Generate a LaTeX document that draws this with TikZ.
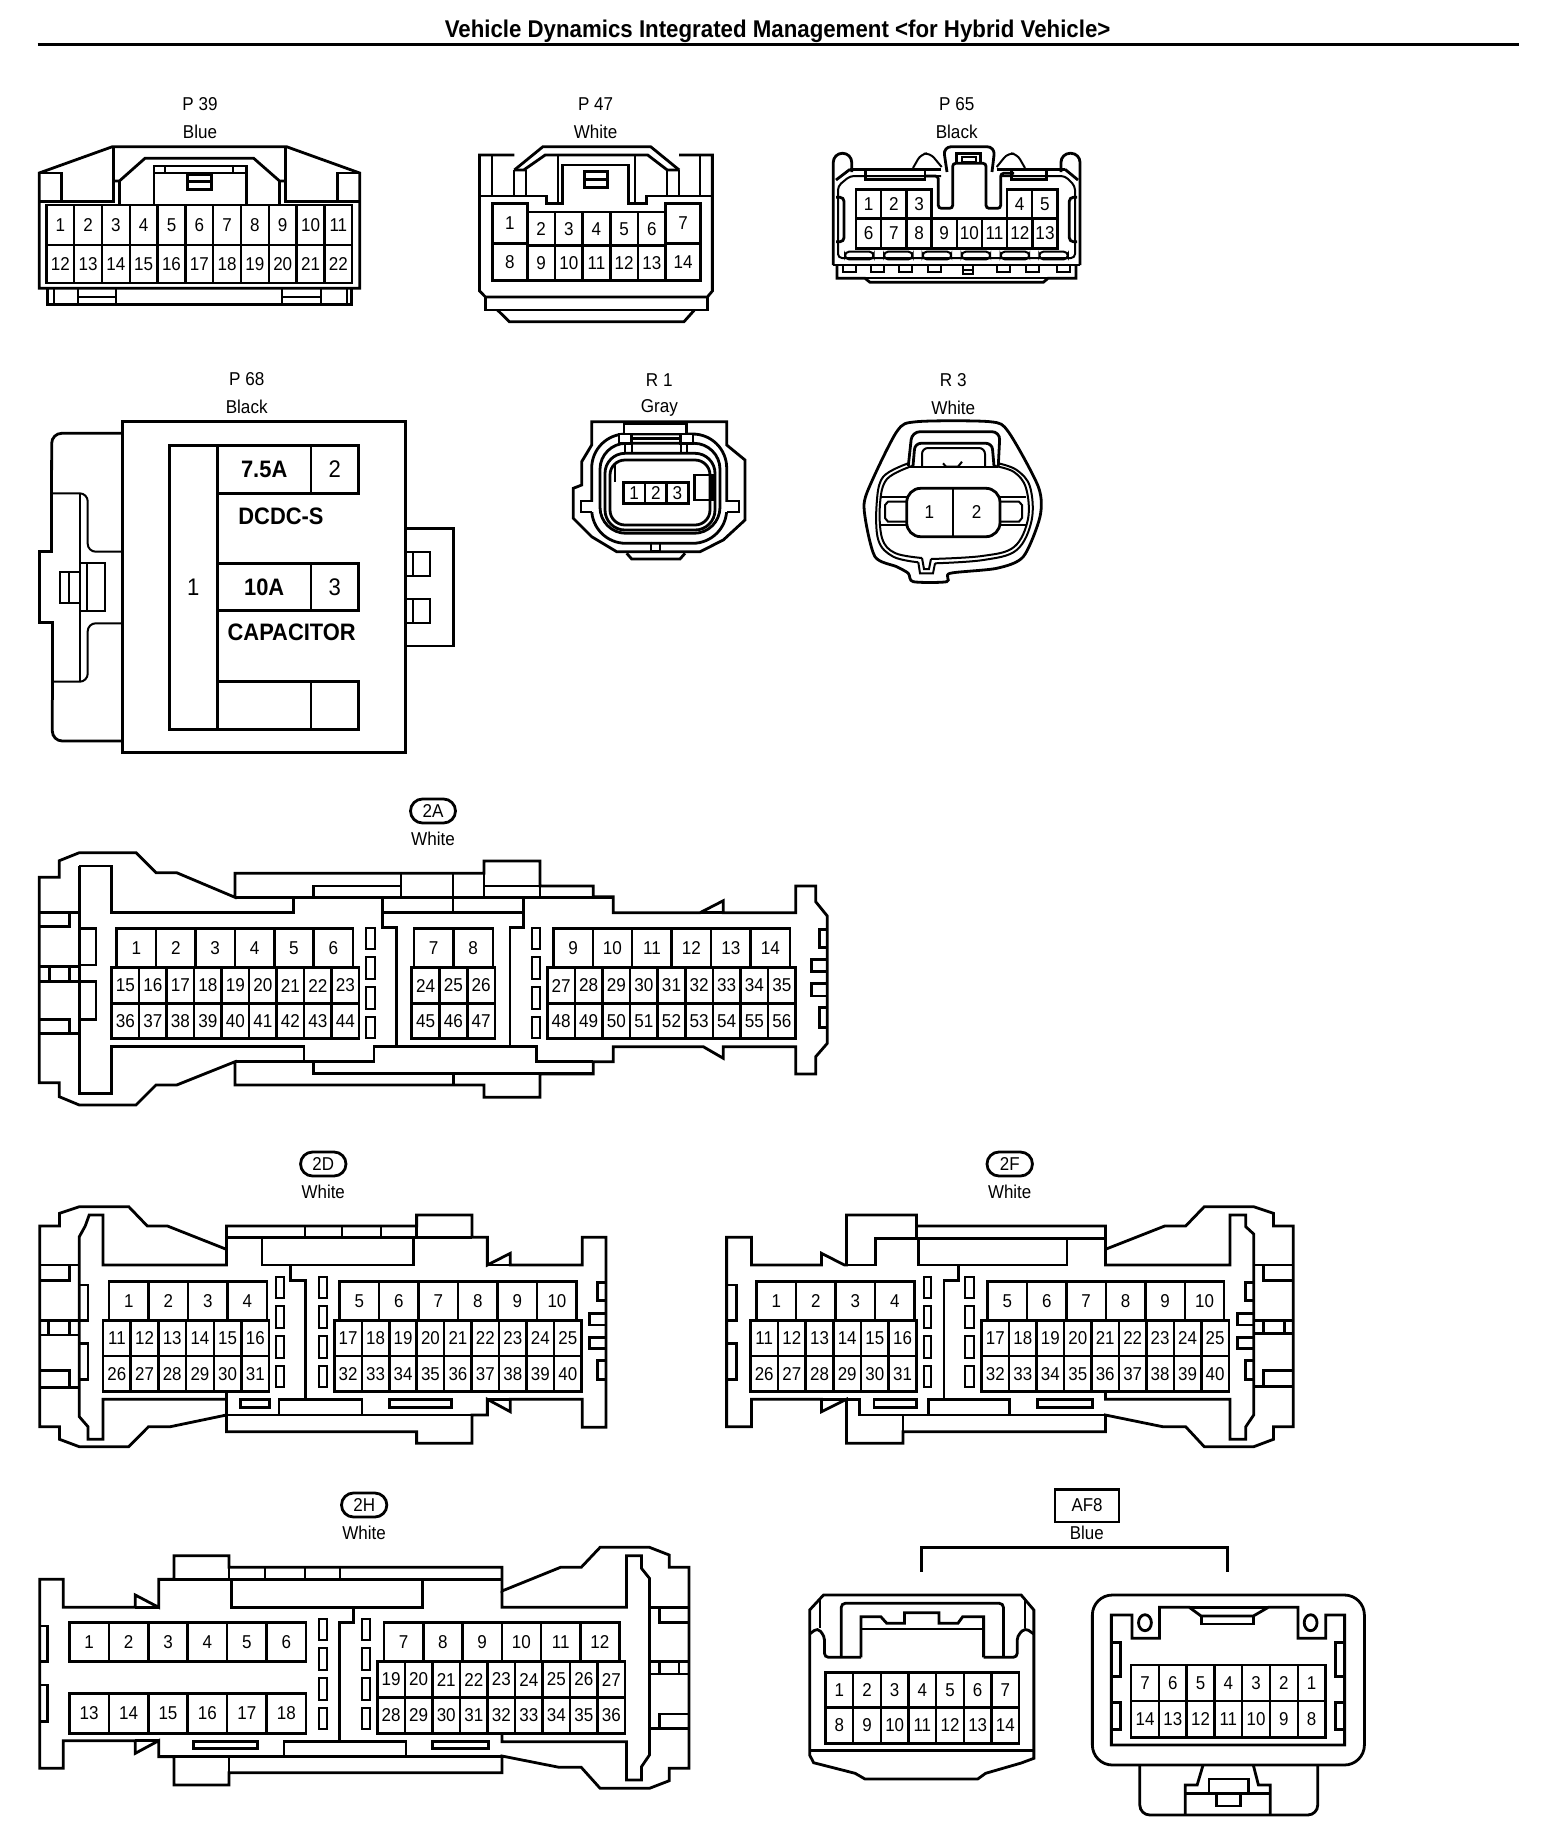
\documentclass[tikz,border=0pt]{standalone}
\usepackage{fontspec}
\setmainfont{Liberation Sans}[FakeStretch=0.92]
\usetikzlibrary{positioning}

\tikzset{
    shell/.style={draw, line width=1.4pt, line join=miter},
    detail/.style={draw, line width=1pt},
    pin/.style={draw, line width=1.25pt, inner sep=0pt, font=\fontsize{9.3}{11}\selectfont},
    lbl/.style={inner sep=0pt, font=\fontsize{9.3}{11}\selectfont},
    tag/.style={draw, line width=1.4pt, rounded corners=6pt, inner sep=0pt, font=\fontsize{9.3}{11}\selectfont},
    fuse/.style={inner sep=0pt, font=\bfseries\fontsize{11.9}{13}\selectfont},
    bignum/.style={inner sep=0pt, font=\fontsize{12}{13}\selectfont}
}

% one row of equal pin cells: name, x, y, cell width, cell height, numbers
\newcommand{\pinrow}[6]{
    \foreach \n [count=\i from 0] in {#6} {
        \node[pin, minimum width=#4*0.5pt, minimum height=#5*0.5pt] (#1-\n) at ({#2+(\i+0.5)*#4},{#3+#5/2}) {\n};
    }
}
% column of four narrow slots
\newcommand{\slotcol}[3]{
    \foreach \ya/\yb in {0/21, 29/51, 59/81, 89/110} {
        \draw[detail] (#1,#3+\ya) rectangle (#2,#3+\yb);
    }
}

\begin{document}
\begin{tikzpicture}[x=0.5pt, y=-0.5pt]
    \path[fill=white, use as bounding box] (0,0) rectangle (1568,1838);

    % Title
    \node[inner sep=0pt, font=\bfseries\fontsize{12.1}{14}\selectfont] (title) at (777.6,31) {Vehicle Dynamics Integrated Management <for Hybrid Vehicle>};
    \coordinate (rulel) at (37.5,44.5);
    \coordinate (ruler) at (1519,44.5);
    \draw[line width=1.8pt] (rulel) -- (ruler);

    \begin{scope}[xscale=0.9949, transform shape]
    % P39
    \node[lbl] (p39name) at (201,104) {P 39};
    \node[lbl] (p39col) at (201,131.7) {Blue};
    \draw[shell] (39.4,173) -- (113,146.7) -- (288,146.7) -- (361.5,173) -- (361.5,288.3) -- (39.4,288.3) -- cycle;
    \draw[shell] (48,288.3) -- (48,304.3) -- (353,304.3) -- (353,288.3);
    \draw[detail] (54,288.3) -- (54,304.3) (348.5,288.3) -- (348.5,304.3);
    \draw[detail] (78,288.3) rectangle (117,304.3) (78,296.7) -- (117,296.7);
    \draw[detail] (283.7,288.3) rectangle (323,304.3) (283.7,296.7) -- (323,296.7);
    \draw[shell] (39.4,201.7) -- (114,201.7) -- (114,146.7) (361.5,201.7) -- (287,201.7) -- (287,146.7);
    \draw[shell] (39.4,173) -- (61.5,173) -- (61.5,201.7) (361.5,173) -- (339,173) -- (339,201.7);
    \draw[shell] (114,181) -- (120,181) -- (145.7,158.3) -- (255,158.3) -- (281,181) -- (287,181);
    \draw[shell] (120,181) -- (120,205) (281,181) -- (281,205);
    \draw[shell] (154.8,205) -- (154.8,166) -- (247.6,166) -- (247.6,205);
    \draw[detail] (154.8,172.7) -- (247.6,172.7) (166,166) -- (166,172.7) (234.6,166) -- (234.6,172.7);
    \draw[shell] (188.5,175) rectangle (212.5,189.3) (188.5,181.7) -- (212.5,181.7);
    \pinrow{pa}{46.6}{205}{27.95}{40}{1,...,11}
    \pinrow{pa}{46.6}{245}{27.95}{38}{12,...,22}

    % P47
    \node[lbl] (p47name) at (598.6,104) {P 47};
    \node[lbl] (p47col) at (598.6,131.7) {White};
    \draw[shell] (517,155) -- (482,155) -- (482,291) -- (488,297) -- (711,297) -- (716,291) -- (716,155) -- (682.7,155);
    \draw[shell] (517,170) -- (545.7,146.7) -- (654,146.7) -- (682.7,170);
    \draw[shell] (526.4,170) -- (548,155) -- (651,155) -- (670.7,170) (517,170) -- (529,170) (670.7,170) -- (682.7,170);
    \draw[shell] (482,196) -- (549.5,196) -- (549.5,203.3) -- (565,203.3) -- (565,165) -- (632,165) -- (632,203.3) -- (650,203.3) -- (650,196) -- (716,196);
    \draw[detail] (495,155) -- (495,196) (704,155) -- (704,196) (517,170) -- (517,196) (529,170) -- (529,196) (670.7,170) -- (670.7,196) (682.7,170) -- (682.7,196) (561,155) -- (561,203.3) (638,155) -- (638,203.3);
    \draw[shell] (587.5,171.7) rectangle (610.5,187.3) (587.5,179.3) -- (610.5,179.3);
    \pinrow{pb}{495}{203.3}{35}{40}{1}
    \pinrow{pb}{495}{243.3}{35}{37.4}{8}
    \pinrow{pb}{669}{203.3}{35}{40}{7}
    \pinrow{pb}{669}{243.3}{35}{37.4}{14}
    \pinrow{pb}{530}{212}{27.8}{33.7}{2,...,6}
    \pinrow{pb}{530}{245.7}{27.8}{35}{9,...,13}
    \draw[shell] (488,297) -- (488,310) -- (711.5,310) -- (711.5,297);
    \draw[shell] (500,310) -- (512,321.7) -- (687.5,321.7) -- (698,310);
    \end{scope}

    % P65
    \node[lbl] (p65name) at (956.7,104) {P 65};
    \node[lbl] (p65col) at (956.7,131.7) {Black};
    \draw[shell, rounded corners=4.5pt] (851.7,172) -- (851.7,153.3) -- (833.3,153.3) -- (833.3,265);
    \draw[shell] (833.3,265) -- (1080,265);
    \draw[shell, rounded corners=4.5pt] (1080,265) -- (1080,153.3) -- (1061,153.3) -- (1061,172);
    \draw[shell] (850,169.3) -- (941,169.3) (996.7,169.3) -- (1065,169.3);
    \draw[detail, rounded corners=2pt] (941,176) -- (850,176) -- (838,186) -- (838,258) -- (1075,258) -- (1075,186) -- (1065,176) -- (1001,176);
    \draw[shell] (850,169.3) -- (836,180);
    \draw[shell] (1065,169.3) -- (1078,180);
    \draw[shell] (865.7,169.3) -- (865.7,179.3) -- (925,179.3) -- (925,169.3);
    \draw[shell] (1011.7,169.3) -- (1011.7,179.3) -- (1046.7,179.3) -- (1046.7,169.3);
    \draw[shell, rounded corners=4pt] (947,172) -- (943.3,146.7) -- (995,146.7) -- (992,172);
    \draw[shell, rounded corners=1.5pt] (925,176) -- (938.3,176) -- (938.3,208.3) -- (952.7,208.3) -- (952.7,163.3) -- (986,163.3) -- (986,208.3) -- (1000.7,208.3) -- (1000.7,173.3) -- (1014,173.3);
    \draw[shell] (956.7,163.3) -- (956.7,153.3) -- (980.7,153.3) -- (980.7,163.3);
    \draw[detail] (962,157) rectangle (976,161.5);
    \draw[detail, rounded corners=3pt] (913,168) -- (921,154) -- (930,153) -- (941.7,167);
    \draw[detail, rounded corners=3pt] (996.7,167) -- (1008,153) -- (1017,154) -- (1025,168);
    \draw[shell, rounded corners=2pt] (836,197.3) -- (844,197.3) -- (844,241.7) -- (836,241.7);
    \draw[shell, rounded corners=2pt] (1077,197.3) -- (1069.3,197.3) -- (1069.3,241.7) -- (1077,241.7);
    \pinrow{pc}{856}{189.3}{25.2}{29}{1,...,3}
    \pinrow{pc}{1007}{189.3}{25.2}{29}{4,5}
    \pinrow{pc}{856}{218.3}{25.2}{30}{6,...,13}
    \foreach \sx in {845,884,922.7,961.7,1000.7,1039.3} {
        \draw[detail, rounded corners=2pt] (\sx,251.7) rectangle (\sx+28.5,259.3);
    }
    \draw[shell] (837,265) -- (837,278.3) -- (865,278.3) -- (870,282.3) -- (1043.3,282.3) -- (1048,278.3) -- (1076,278.3) -- (1076,265);
    \draw[detail] (865,278.3) -- (1048,278.3);
    \foreach \tx in {842.7,870.7,899,928.3,996.7,1025.7,1056.7} {
        \draw[detail] (\tx,265) rectangle (\tx+13,271.7);
    }
    \draw[detail] (963.3,265) rectangle (972.7,274) (963.3,270) -- (972.7,270);

    % P68
    \node[lbl] (p68name) at (246.7,379) {P 68};
    \node[lbl] (p68col) at (246.7,407.3) {Black};
    \draw[shell] (122.3,421.7) rectangle (405.7,752.7);
    \draw[shell, rounded corners=5pt] (122.3,433.3) -- (51.7,433.3) -- (51.7,470);
    \draw[shell] (51.7,460) -- (51.7,551.7) -- (39.3,551.7) -- (39.3,622.3) -- (52.3,622.3) -- (52.3,700);
    \draw[shell, rounded corners=5pt] (52.3,700) -- (52.3,741) -- (122.3,741);
    \draw[detail, rounded corners=4pt] (52.3,493.3) -- (87.7,493.3) -- (87.7,551.7) -- (122.3,551.7);
    \draw[detail, rounded corners=4pt] (122.3,623.3) -- (87.7,623.3) -- (87.7,681.7) -- (52.3,681.7);
    \draw[detail] (80,493.3) -- (80,681.7);
    \draw[detail] (80,563.3) rectangle (105,610.7) (86.7,563.3) -- (86.7,610.7);
    \draw[detail] (60,571.7) rectangle (80,602.7) (69,571.7) -- (69,602.7);
    \draw[shell] (405.7,528.3) -- (453.3,528.3) -- (453.3,646) -- (405.7,646);
    \draw[detail] (405.7,551.7) rectangle (430,576) (413.3,551.7) -- (413.3,576);
    \draw[detail] (405.7,599.3) rectangle (430,623.3) (413.3,599.3) -- (413.3,623.3);
    \node[shell, minimum width=48*0.5pt, minimum height=283.6*0.5pt, bignum] (p68-1) at (193.3,587.5) {1};
    \node[shell, minimum width=93.7*0.5pt, minimum height=47.6*0.5pt, fuse] (fa) at (264.2,469.5) {7.5A};
    \node[shell, minimum width=47.7*0.5pt, minimum height=47.6*0.5pt, bignum] (p68-2) at (334.8,469.5) {2};
    \node[shell, minimum width=93.7*0.5pt, minimum height=47.4*0.5pt, fuse] (fb) at (264.2,587) {10A};
    \node[shell, minimum width=47.7*0.5pt, minimum height=47.4*0.5pt, bignum] (p68-3) at (334.8,587) {3};
    \node[shell, minimum width=93.7*0.5pt, minimum height=47.6*0.5pt] (fc) at (264.2,705.5) {};
    \node[shell, minimum width=47.7*0.5pt, minimum height=47.6*0.5pt] (p68-4) at (334.8,705.5) {};
    \node[fuse] (dcdc) at (281,516) {DCDC-S};
    \node[fuse] (capa) at (291.7,632.5) {CAPACITOR};

    % R1
    \node[lbl] (r1name) at (659.3,380) {R 1};
    \node[lbl] (r1col) at (659.3,407.7) {Gray};
    \draw[shell] (591.7,445) -- (591.7,421.7) -- (726.7,421.7) -- (726.7,445) -- (745,460) -- (745,520) -- (723.3,540) -- (700,551.7) -- (616.7,551.7) -- (591.7,536.7) -- (573.3,518.3) -- (573.3,488.3) -- (581.7,485) -- (581.7,461.7) -- cycle;
    \draw[shell, rounded corners=17pt] (591.7,434) rectangle (726.7,543.3);
    \draw[shell, rounded corners=13pt] (600,443.3) rectangle (720,533.3);
    \draw[shell, rounded corners=10pt] (605,453.3) rectangle (715,530);
    \draw[shell, rounded corners=7.5pt] (610,460) rectangle (710,525);
    \draw[fill=white, draw=white] (589,502) rectangle (595,511.5) (724,502) rectangle (730,511.5);
    \draw[shell] (591.7,501) -- (581,501) -- (581,512) -- (591.7,512) (726.7,501) -- (739,501) -- (739,512) -- (726.7,512);
    \draw[fill=white, shell] (624,423.3) rectangle (686.7,434);
    \draw[fill=white, shell] (619,434) rectangle (631.7,443.3) (680.7,434) rectangle (693,443.3);
    \draw[shell] (631.7,438.3) -- (680.7,438.3);
    \draw[detail] (625,443) -- (625,453) (631.7,443) -- (631.7,453) (680.7,443) -- (680.7,453) (686.7,443) -- (686.7,453);
    \draw[detail] (615,464) -- (615,482);
    \pinrow{rb}{623.3}{482.3}{21.67}{21}{1,2,3}
    \draw[shell] (694.3,475) rectangle (712.3,500);
    \draw[shell] (651,541.7) -- (651,551.7) -- (660,551.7) -- (660,541.7);
    \draw[shell] (626.7,553.3) -- (631.7,559) -- (680,559) -- (685,553.3);

    % R3
    \node[lbl] (r3name) at (953.3,380) {R 3};
    \node[lbl] (r3col) at (953.3,407.7) {White};
    \draw[shell] plot[smooth cycle, tension=0.45] coordinates {(916.7,421.7) (990,421.7) (1008.3,431.7) (1038.3,486.7) (1040,516.7) (1023.3,556.7) (996.7,568.3) (950,573.3) (946.7,581.7) (913.3,581.7) (908.3,573.3) (896.7,566.7) (875,556.7) (865,516.7) (866.7,493.3) (896.7,431.7)};
    \draw[detail] plot[smooth, tension=0.6] coordinates {(908.3,463.3) (883.3,476.7) (876.7,503.3) (878.3,540) (893.3,556.7) (918.3,562.3)};
    \draw[detail] plot[smooth, tension=0.6] coordinates {(935,563.3) (983.3,560) (1016.7,550) (1031.7,520) (1030,486.7) (1016.7,470) (998.3,463.3)};
    \draw[detail] plot[smooth, tension=0.6] coordinates {(912,466) (887,479) (880,504) (882,538) (895,553) (922,558)};
    \draw[detail] plot[smooth, tension=0.6] coordinates {(931,559) (982,556) (1014,547) (1028,519) (1026,488) (1014,472) (995,466)};
    \draw[detail] (918.3,562.3) -- (920,573.3) -- (933,573.3) -- (935,563.3) (922,558) -- (924,569) -- (929,569) -- (931,559);
    \draw[shell, rounded corners=4pt] (908.3,466) -- (912,431.7) -- (1000,431.7) -- (998.3,466);
    \draw[detail] (908.3,466.7) -- (998.3,466.7);
    \draw[shell, rounded corners=3pt] (913,466) -- (915,443.3) -- (992,443.3) -- (994,466);
    \draw[detail, rounded corners=3pt] (922,466) -- (922,448) -- (985,448) -- (985,466);
    \draw[detail] (943,463.3) -- (946,466.7) -- (958,466.7) -- (962,461.7);
    \draw[shell, rounded corners=7pt] (906.7,488.3) rectangle (1000,536.7);
    \draw[detail] (953.3,488.3) -- (953.3,536.7);
    \node[lbl] (r3-1) at (929.3,511.7) {1};
    \node[lbl] (r3-2) at (976.7,511.7) {2};
    \draw[detail] (881,496.7) -- (906.7,496.7) (881,525) -- (906.7,525);
    \draw[detail] (906.7,501.7) -- (888,501.7) -- (885,505) -- (885,518) -- (888,521.7) -- (906.7,521.7);
    \draw[detail] (1000,496.7) -- (1026,496.7) (1000,525) -- (1026,525);
    \draw[detail] (1000,501.7) -- (1019,501.7) -- (1022,505) -- (1022,518) -- (1019,521.7) -- (1000,521.7);

    % 2A
    \node[tag, minimum width=45*0.5pt, minimum height=24*0.5pt] (twoa) at (433,811) {2A};
    \node[lbl] (twoacol) at (433,839.3) {White};
    \draw[shell] (39.3,877.3) -- (59.3,877.3) -- (59.3,860.7) -- (79.3,852.7) -- (136,852.7) -- (156,872.7) -- (176.7,872.7) -- (235,897.3) -- (235,873.3) -- (484,873.3) -- (484,861) -- (540,861) -- (540,886) -- (593.3,886) -- (593.3,896.7) -- (613.3,896.7) -- (613.3,912.7) -- (700,912.7) -- (723.3,900.7) -- (723.3,912.7) -- (795.7,912.7) -- (795.7,886) -- (815.7,886) -- (815.7,901.7) -- (827.3,916) -- (827.3,1043.3) -- (815.7,1056.7) -- (815.7,1074) -- (795.7,1074) -- (795.7,1046.7) -- (723.3,1046.7) -- (723.3,1058.3) -- (703.3,1046.7) -- (613.3,1046.7) -- (613.3,1061.7) -- (593.3,1061.7) -- (593.3,1074) -- (540,1074) -- (540,1097.3) -- (484,1097.3) -- (484,1085) -- (235,1085) -- (235,1061.7) -- (176.7,1085) -- (156,1085) -- (136,1105) -- (79.3,1105) -- (59.3,1096.7) -- (59.3,1082.7) -- (39.3,1082.7) -- cycle;
    \draw[shell] (700,912.7) -- (723.3,912.7);
    \draw[shell] (79.3,866) -- (111.7,866) -- (111.7,912.7) -- (293.3,912.7) -- (293.3,897.3) (79.3,866) -- (79.3,1093.3) -- (111.7,1093.3) -- (111.7,1046.7) -- (304,1046.7) -- (304,1061.7);
    \draw[shell] (235,1061.7) -- (374,1061.7) -- (374,1046.7) -- (536.7,1046.7) -- (536.7,1061.7) -- (593.3,1061.7);
    \draw[shell] (235,897.3) -- (613.3,897.3);
    \draw[shell] (382.7,897.3) -- (382.7,927.3) -- (396.7,927.3) -- (396.7,1046.7) (523.3,897.3) -- (523.3,927.3) -- (510,927.3) -- (510,1046.7);
    \draw[shell] (382.7,912.7) -- (523.3,912.7);
    \draw[detail] (400.7,873.3) -- (400.7,897.3) (453.3,873.3) -- (453.3,912.7) (484,873.3) -- (484,897.3) (540,861) -- (540,897.3);
    \draw[shell] (313.3,897.3) -- (313.3,886) -- (400.7,886) (484,886) -- (540,886);
    \draw[shell] (313.3,1061.7) -- (313.3,1073.7) -- (593.3,1073.7) (453.3,1073.7) -- (453.3,1085);
    \draw[shell] (39.3,912.7) -- (79.3,912.7) (39.3,926.7) -- (69.3,926.7) -- (69.3,912.7) (39.3,966.7) -- (79.3,966.7) (39.3,981.7) -- (79.3,981.7) (49.3,966.7) -- (49.3,981.7) (69.3,966.7) -- (69.3,981.7) (39.3,1019.3) -- (69.3,1019.3) -- (69.3,1033.3) (39.3,1033.3) -- (79.3,1033.3);
    \draw[shell] (79.3,928.3) -- (96,928.3) -- (96,965) -- (79.3,965) (79.3,981.7) -- (96,981.7) -- (96,1019.3) -- (79.3,1019.3);
    \pinrow{ta}{116.7}{928.3}{39.4}{39.4}{1,...,6}
    \pinrow{ta}{111.7}{967.7}{27.5}{35.6}{15,...,23}
    \pinrow{ta}{111.7}{1003.3}{27.5}{35}{36,...,44}
    \pinrow{ta}{414}{928.3}{39.4}{39.4}{7,8}
    \pinrow{ta}{411.7}{967.7}{27.8}{35.6}{24,25,26}
    \pinrow{ta}{411.7}{1003.3}{27.8}{35}{45,46,47}
    \pinrow{ta}{553.3}{928.3}{39.45}{39.4}{9,...,14}
    \pinrow{ta}{547.3}{967.7}{27.6}{35.6}{27,...,35}
    \pinrow{ta}{547.3}{1003.3}{27.6}{35}{48,...,56}
    \slotcol{365.7}{375}{928.3}
    \slotcol{531.7}{540}{928.3}
    \draw[shell] (827.3,929.3) -- (819.3,929.3) -- (819.3,947.3) -- (827.3,947.3) (827.3,959.3) -- (811.7,959.3) -- (811.7,971.7) -- (827.3,971.7) (827.3,983.3) -- (811.7,983.3) -- (811.7,996) -- (827.3,996) (827.3,1007.3) -- (819.3,1007.3) -- (819.3,1027.3) -- (827.3,1027.3);

    \begin{scope}[xshift=0.115pt, xscale=0.98853, transform shape]
    % 2D
    \node[tag, minimum width=46*0.5pt, minimum height=24*0.5pt] (twod) at (326.8,1164) {2D};
    \node[lbl] (twodcol) at (326.8,1191.7) {White};
    \draw[shell] (40,1226) -- (60,1226) -- (60,1213.3) -- (80,1206.7) -- (130,1206.7) -- (148.8,1226) -- (169.2,1226) -- (228.8,1249.3) -- (228.8,1226) -- (421.2,1226) -- (421.2,1215) -- (477.2,1215) -- (477.2,1237.3) -- (492.8,1237.3) -- (492.8,1265) -- (516,1253.3) -- (516,1265) -- (588.8,1265) -- (588.8,1237.3) -- (612.8,1237.3) -- (612.8,1427.3) -- (588.8,1427.3) -- (588.8,1399.3) -- (516,1399.3) -- (516,1411.7) -- (492.8,1399.3) -- (492.8,1415) -- (477.2,1415) -- (477.2,1443.3) -- (421.2,1443.3) -- (421.2,1431.7) -- (228.8,1431.7) -- (228.8,1415) -- (172,1426.7) -- (150,1426.7) -- (130,1446.7) -- (80,1446.7) -- (60,1439.3) -- (60,1426.7) -- (40,1426.7) -- cycle;
    \draw[shell] (492.8,1265) -- (516,1265) (492.8,1399.3) -- (516,1399.3);
    \draw[shell] (86,1226) -- (80,1236.7) -- (80,1416.7) -- (88.8,1426.7) -- (88.8,1439.3) -- (104,1439.3) -- (104,1399.3) -- (228.8,1399.3) -- (228.8,1415) (86,1226) -- (90,1215) -- (104,1215) -- (104,1265) -- (228.8,1265) -- (228.8,1249.3);
    \draw[shell] (228.8,1237.3) -- (477.2,1237.3) (421.2,1226) -- (421.2,1237.3);
    \draw[detail] (308.8,1226) -- (308.8,1237.3) (346,1226) -- (346,1237.3) (384.8,1226) -- (384.8,1237.3);
    \draw[shell] (264.8,1237.3) -- (264.8,1265) -- (418,1265) -- (418,1237.3);
    \draw[shell] (294,1265) -- (294,1280.7) -- (308.8,1280.7) -- (308.8,1399.3);
    \draw[shell] (228.8,1415) -- (492.8,1415);
    \draw[shell] (228.8,1391.7) -- (228.8,1399.3);
    \draw[shell] (272,1399.3) rectangle (242.8,1407.3) (394,1399.3) rectangle (456.8,1407.3);
    \draw[shell] (282,1415) -- (282,1399.3) -- (366,1399.3) -- (366,1415);
    \draw[shell] (40,1265) -- (80,1265) (40,1280.7) -- (70,1280.7) -- (70,1265) (40,1320.7) -- (80,1320.7) (40,1335) -- (80,1335) (48.8,1320.7) -- (48.8,1335) (70,1320.7) -- (70,1335) (40,1370.7) -- (70,1370.7) -- (70,1387.3) (40,1387.3) -- (80,1387.3);
    \draw[shell] (80,1285) -- (88.8,1285) -- (88.8,1320.7) -- (80,1320.7) (80,1343.3) -- (88.8,1343.3) -- (88.8,1379.3) -- (80,1379.3);
    \pinrow{td}{110}{1281.7}{40}{39}{1,...,4}
    \pinrow{td}{343.2}{1281.7}{40}{39}{5,...,10}
    \pinrow{td}{104}{1320.7}{28}{35.3}{11,...,16}
    \pinrow{td}{104}{1356}{28}{35.7}{26,...,31}
    \pinrow{td}{338}{1320.7}{27.78}{35.3}{17,...,25}
    \pinrow{td}{338}{1356}{27.78}{35.7}{32,...,40}
    \slotcol{279.2}{286.8}{1276.7}
    \slotcol{322}{330.8}{1276.7}
    \draw[shell] (612.8,1282.7) -- (604,1282.7) -- (604,1300.7) -- (612.8,1300.7) (612.8,1313.3) -- (596,1313.3) -- (596,1325) -- (612.8,1325) (612.8,1337.3) -- (596,1337.3) -- (596,1348.3) -- (612.8,1348.3) (612.8,1360.7) -- (604,1360.7) -- (604,1379.3) -- (612.8,1379.3);
    \end{scope}

    \begin{scope}[xshift=4.07pt, xscale=0.98853, transform shape]
    % 2F
    \node[tag, minimum width=46*0.5pt, minimum height=24*0.5pt] (twof) at (1013.2,1164) {2F};
    \node[lbl] (twofcol) at (1013.2,1191.7) {White};
    \draw[shell] (726.8,1237.3) -- (752,1237.3) -- (752,1265) -- (822.8,1265) -- (822.8,1253.3) -- (846,1265) -- (848,1265) -- (848,1215) -- (918.8,1215) -- (918.8,1226) -- (1110,1226) -- (1110,1249.3) -- (1170,1226) -- (1191.2,1226) -- (1210,1206.7) -- (1260,1206.7) -- (1280,1213.3) -- (1280,1226) -- (1300,1226) -- (1300,1426.7) -- (1280,1426.7) -- (1280,1439.3) -- (1260,1446.7) -- (1210,1446.7) -- (1191.2,1426.7) -- (1168,1426.7) -- (1110,1415) -- (1110,1431.7) -- (905.2,1431.7) -- (905.2,1443.3) -- (848,1443.3) -- (848,1399.3) -- (822.8,1411.7) -- (822.8,1399.3) -- (752,1399.3) -- (752,1426.7) -- (726.8,1426.7) -- cycle;
    \draw[shell] (822.8,1399.3) -- (848,1399.3);
    \draw[shell] (848,1265) -- (877.2,1265) -- (877.2,1238.3) -- (1110,1238.3);
    \draw[shell] (921.2,1238.3) -- (921.2,1265) -- (1071.2,1265) -- (1071.2,1238.3);
    \draw[shell] (918.8,1226) -- (918.8,1238.3);
    \draw[shell] (961.2,1265) -- (961.2,1280.7) -- (946.8,1280.7) -- (946.8,1399.3);
    \draw[shell] (1110,1249.3) -- (1110,1265) -- (1236,1265) -- (1236,1215) -- (1252,1215) -- (1252,1226.7) -- (1260,1234) -- (1260,1415) -- (1252,1426.7) -- (1252,1439.3) -- (1236,1439.3) -- (1236,1399.3) -- (1110,1399.3) -- (1110,1391.7);
    \draw[shell] (848,1399.3) -- (861.2,1399.3) -- (861.2,1415) -- (1110,1415) (905.2,1415) -- (905.2,1431.7);
    \draw[shell] (930.8,1415) -- (930.8,1399.3) -- (1013.2,1399.3) -- (1013.2,1415);
    \draw[shell] (876,1399.3) rectangle (918.8,1407.3) (1041.2,1399.3) rectangle (1096.8,1407.3);
    \draw[shell] (1260,1265) -- (1300,1265) (1270,1265) -- (1270,1280.7) -- (1300,1280.7) (1260,1320.7) -- (1300,1320.7) (1260,1333.3) -- (1300,1333.3) (1270,1320.7) -- (1270,1333.3) (1290.8,1320.7) -- (1290.8,1333.3) (1270,1386.7) -- (1270,1370.7) -- (1300,1370.7) (1260,1386.7) -- (1300,1386.7);
    \draw[shell] (1260,1282.7) -- (1252,1282.7) -- (1252,1300.7) -- (1260,1300.7) (1260,1313.3) -- (1244,1313.3) -- (1244,1325) -- (1260,1325) (1260,1337.3) -- (1244,1337.3) -- (1244,1348.3) -- (1260,1348.3) (1260,1360.7) -- (1252,1360.7) -- (1252,1379.3) -- (1260,1379.3);
    \draw[shell] (726.8,1285) -- (736.8,1285) -- (736.8,1320.7) -- (726.8,1320.7) (726.8,1343.3) -- (736.8,1343.3) -- (736.8,1379.3) -- (726.8,1379.3);
    \pinrow{tf}{757.2}{1281.7}{39.9}{39}{1,...,4}
    \pinrow{tf}{990.8}{1281.7}{39.9}{39}{5,...,10}
    \pinrow{tf}{750.8}{1320.7}{28}{35.3}{11,...,16}
    \pinrow{tf}{750.8}{1356}{28}{35.7}{26,...,31}
    \pinrow{tf}{984.8}{1320.7}{27.78}{35.3}{17,...,25}
    \pinrow{tf}{984.8}{1356}{27.78}{35.7}{32,...,40}
    \slotcol{926}{934}{1276.7}
    \slotcol{968}{976.8}{1276.7}
    \end{scope}

    \begin{scope}[xshift=0.05pt, xscale=0.99472, transform shape]
    % 2H
    \node[tag, minimum width=45.6*0.5pt, minimum height=24*0.5pt] (twoh) at (366,1505) {2H};
    \node[lbl] (twohcol) at (366,1532.7) {White};
    \draw[shell] (39.9,1579.3) -- (63.4,1579.3) -- (63.4,1607.3) -- (135.9,1607.3) -- (135.9,1595) -- (159.4,1607.3) -- (159.4,1579.3) -- (174.9,1579.3) -- (174.9,1555.7) -- (230.2,1555.7) -- (230.2,1567.3) -- (504.5,1567.3) -- (504.5,1591) -- (563.4,1567.3) -- (584.2,1567.3) -- (603.2,1547.3) -- (652.8,1547.3) -- (672.7,1555) -- (672.7,1567.3) -- (692.6,1567.3) -- (692.6,1768.3) -- (672.7,1768.3) -- (672.7,1780.7) -- (652.8,1788.3) -- (603.2,1788.3) -- (584.2,1767.3) -- (562,1767.3) -- (504.5,1756) -- (504.5,1772.7) -- (230.2,1772.7) -- (230.2,1785) -- (174.9,1785) -- (174.9,1756.7) -- (159.4,1756.7) -- (159.4,1740.7) -- (135.9,1753.3) -- (135.9,1740.7) -- (63.4,1740.7) -- (63.4,1768.3) -- (39.9,1768.3) -- cycle;
    \draw[shell] (135.9,1607.3) -- (159.4,1607.3) (135.9,1740.7) -- (159.4,1740.7);
    \draw[shell] (159.4,1579.3) -- (504.5,1579.3);
    \draw[detail] (230.2,1567.3) -- (230.2,1579.3) (266.5,1567.3) -- (266.5,1579.3) (306.3,1567.3) -- (306.3,1579.3) (341.7,1567.3) -- (341.7,1579.3);
    \draw[shell] (232.4,1579.3) -- (232.4,1607.3) -- (424.9,1607.3) -- (424.9,1579.3);
    \draw[shell] (355,1607.3) -- (355,1622.3) -- (340.8,1622.3) -- (340.8,1741.7);
    \draw[shell] (504.5,1591) -- (504.5,1607.3) -- (629.7,1607.3) -- (629.7,1555.7) -- (644.8,1555.7) -- (644.8,1568.3) -- (652.8,1578.3) -- (652.8,1755) -- (644.8,1766.7) -- (644.8,1780) -- (629.7,1780) -- (629.7,1741.7) -- (504.5,1741.7) -- (504.5,1733.3);
    \draw[shell] (159.4,1756.7) -- (504.5,1756.7) (230.2,1756.7) -- (230.2,1772.7);
    \draw[shell] (285.5,1756.7) -- (285.5,1741.7) -- (408,1741.7) -- (408,1756.7);
    \draw[shell] (194.8,1741.7) rectangle (258.9,1748.3) (434.6,1741.7) rectangle (491.2,1748.3);
    \draw[shell] (652.8,1607.3) -- (692.6,1607.3) (662.5,1607.3) -- (662.5,1622.3) -- (692.6,1622.3) (652.8,1661.7) -- (692.6,1661.7) (652.8,1674) -- (692.6,1674) (662.5,1661.7) -- (662.5,1674) (682.4,1661.7) -- (682.4,1674) (662.5,1728.3) -- (662.5,1714) -- (692.6,1714) (652.8,1728.3) -- (692.6,1728.3);
    \draw[shell] (39.9,1626) -- (47.9,1626) -- (47.9,1661.7) -- (39.9,1661.7) (39.9,1685) -- (47.9,1685) -- (47.9,1721.7) -- (39.9,1721.7);
    \pinrow{th}{69.6}{1622.3}{39.67}{39.4}{1,...,6}
    \pinrow{th}{69.6}{1693.3}{39.67}{40}{13,...,18}
    \pinrow{th}{386}{1622.3}{39.45}{39.4}{7,...,12}
    \pinrow{th}{379.3}{1661.7}{27.68}{35.6}{19,...,27}
    \pinrow{th}{379.3}{1697.3}{27.68}{36}{28,...,36}
    \slotcol{320.9}{328.8}{1619}
    \slotcol{363.4}{371.8}{1619}
    \end{scope}

    \begin{scope}[xshift=4.47pt, xscale=0.98853, transform shape]
    % AF8
    \node[draw, line width=1.2pt, inner sep=0pt, minimum width=65.2*0.5pt, minimum height=32.4*0.5pt, font=\fontsize{9.3}{11}\selectfont] (afe) at (1090.6,1505.5) {AF8};
    \node[lbl] (afecol) at (1090.4,1533) {Blue};
    \coordinate (afeleft) at (922.8,1571.7);
    \coordinate (aferight) at (1233.2,1571.7);
    \draw[line width=1.5pt] (afeleft) -- ++(0,-24) -| (aferight);

    % AF8 left half
    \draw[shell] (810,1610) -- (824,1595) -- (1024,1595) -- (1036.8,1610) -- (1036.8,1758.3) -- (1024,1763) -- (988,1773.3) -- (980,1779) -- (866,1779) -- (856,1773.3) -- (814,1762.7) -- (810,1755) -- cycle;
    \draw[shell] (810,1750.7) -- (1036.8,1750.7);
    \draw[shell, rounded corners=2pt] (810,1634) -- (818,1628) -- (825,1636) -- (825,1657.3) -- (862,1657.3);
    \draw[shell, rounded corners=2pt] (1036.8,1634) -- (1028,1628) -- (1020,1636) -- (1020,1657.3) -- (986,1657.3);
    \draw[shell] (862,1657.3) -- (862,1616.7) -- (882,1616.7) -- (888,1623.3) -- (906,1623.3) -- (906,1612.7) -- (940.8,1612.7) -- (940.8,1623.3) -- (960,1623.3) -- (964.8,1616.7) -- (986,1616.7) -- (986,1657.3);
    \draw[shell] (862,1629) -- (986,1629);
    \draw[shell, rounded corners=2pt] (842,1657.3) -- (842,1603.3) -- (1006,1603.3) -- (1006,1657.3);
    \draw[detail] (820,1600) -- (820,1628) (1028,1600) -- (1028,1628);
    \pinrow{afl}{826}{1672.3}{28}{35}{1,...,7}
    \pinrow{afl}{826}{1707.3}{28}{36}{8,...,14}

    % AF8 right half
    \draw[shell, rounded corners=10pt] (1096,1595) rectangle (1371.2,1765);
    \draw[shell] (1115.2,1615) -- (1136,1615) -- (1136,1638.3) -- (1164,1638.3) -- (1164,1607.3) -- (1194,1607.3) -- (1206,1616) -- (1258.8,1616) -- (1274,1607.3) -- (1304,1607.3) -- (1304,1638.3) -- (1332,1638.3) -- (1332,1615) -- (1351.2,1615) -- (1351.2,1745) -- (1115.2,1745) -- cycle;
    \draw[shell] (1194,1607.3) -- (1274,1607.3);
    \draw[shell] (1206,1616) -- (1206,1624) -- (1258.8,1624) -- (1258.8,1616);
    \draw[shell] (1149.2,1622.7) ellipse (6.5 and 8) (1316.8,1622.7) ellipse (6.5 and 8);
    \draw[shell] (1115.2,1642.7) -- (1124.8,1642.7) -- (1124.8,1676.7) -- (1115.2,1676.7) (1115.2,1702.3) -- (1124.8,1702.3) -- (1124.8,1729.3) -- (1115.2,1729.3);
    \draw[shell] (1351.2,1642.7) -- (1342,1642.7) -- (1342,1676.7) -- (1351.2,1676.7) (1351.2,1702.3) -- (1342,1702.3) -- (1342,1729.3) -- (1351.2,1729.3);
    \pinrow{afr}{1135.2}{1665}{28.1}{36}{7,6,...,1}
    \pinrow{afr}{1135.2}{1701}{28.1}{36.3}{14,13,...,8}
    \draw[shell, rounded corners=5pt] (1144,1765) -- (1144,1815) -- (1324,1815) -- (1324,1765);
    \draw[shell] (1190,1815) -- (1190,1785) -- (1202,1785) -- (1208,1765) (1276,1815) -- (1276,1785) -- (1264,1785) -- (1258.8,1765);
    \draw[shell] (1190,1793.3) -- (1276,1793.3);
    \draw[shell] (1214,1779) rectangle (1254,1793.3) (1221.2,1793.3) rectangle (1246,1806);
    \end{scope}
\end{tikzpicture}
\end{document}
